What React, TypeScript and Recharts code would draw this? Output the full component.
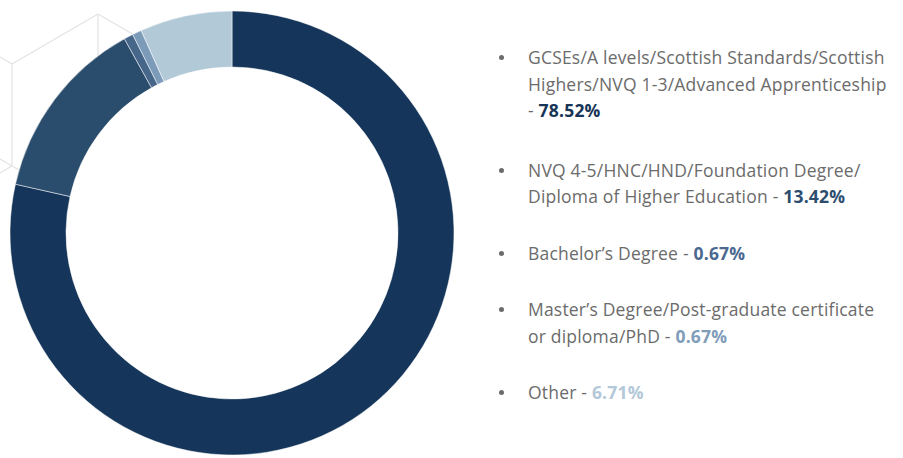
import * as React from "react";
import { PieChart, Pie, Cell } from "recharts";

// Highest qualification held, share of respondents (%).
// Each category label is split into the lines it is shown on.
const categories = [
  ["GCSEs/A levels/Scottish Standards/Scottish", "Highers/NVQ 1-3/Advanced Apprenticeship", ""],
  ["NVQ 4-5/HNC/HND/Foundation Degree/", "Diploma of Higher Education"],
  ["Bachelor\u2019s Degree"],
  ["Master\u2019s Degree/Post-graduate certificate", "or diploma/PhD"],
  ["Other"],
];
const shares = [78.52, 13.42, 0.67, 0.67, 6.71];
const sliceColors = ["#15365a", "#2b4d6d", "#46668a", "#7b9bb8", "#b2c9d8"];
const labelColors = ["#163557", "#2c4d6e", "#4a6890", "#7f9dba", "#b3c8d8"];

const data = categories.map((lines, i) => ({ name: lines.join(" ").trim(), lines, value: shares[i] }));

const W = 903;
const H = 458;

// faint isometric outline sitting behind the ring
function Backdrop() {
  const stroke = "#e3e3e3";
  const segs: [number, number, number, number][] = [
    [98, 14, 12, 64],
    [98, 14, 184, 64],
    [98, 14, 98, 80],
    [0, 57, 12, 64],
    [12, 64, 12, 166],
    [12, 166, 0, 159],
    [12, 166, 0, 173],
    [12, 166, 30, 176],
  ];
  return (
    <svg width={W} height={H} style={{ position: "absolute", left: 0, top: 0 }}>
      {segs.map(([x1, y1, x2, y2], i) => (
        <line key={i} x1={x1} y1={y1} x2={x2} y2={y2} stroke={stroke} strokeWidth={1.2} />
      ))}
    </svg>
  );
}

function LegendList() {
  return (
    <ul
      style={{
        position: "absolute",
        left: 490,
        top: 44,
        width: 413,
        listStyle: "none",
        margin: 0,
        padding: 0,
        fontFamily: "'Open Sans', sans-serif",
        fontSize: 17.5,
        letterSpacing: 0.2,
        lineHeight: "26.5px",
        color: "#6b6b6b",
        whiteSpace: "nowrap",
      }}
    >
      {data.map((d, i) => (
        <li key={d.name} style={{ position: "relative", paddingLeft: 38, marginBottom: i === 0 ? 33 : 30 }}>
          <span
            style={{
              position: "absolute",
              left: 9,
              top: 11,
              width: 5,
              height: 5,
              borderRadius: "50%",
              background: "#6b6b6b",
            }}
          />
          {d.lines.map((ln, j) => (
            <div key={j}>
              {ln}
              {j === d.lines.length - 1 && (
                <>
                  {ln ? " " : ""}-{" "}
                  <b style={{ color: labelColors[i], fontWeight: 700 }}>{d.value.toFixed(2)}%</b>
                </>
              )}
            </div>
          ))}
        </li>
      ))}
    </ul>
  );
}

export default function App() {
  return (
    <div style={{ position: "absolute", left: 0, top: 0, width: W, height: H, background: "#fff" }}>
      <Backdrop />
      <PieChart
        width={W}
        height={H}
        margin={{ top: 0, right: 0, bottom: 0, left: 0 }}
        style={{ position: "absolute", left: 0, top: 0 }}
      >
        <Pie
          data={data}
          dataKey="value"
          nameKey="name"
          cx={232}
          cy={233}
          innerRadius={166}
          outerRadius={222}
          startAngle={90}
          endAngle={-270}
          minAngle={0.7}
          stroke="#ffffff"
          strokeWidth={0.5}
          isAnimationActive={false}
        >
          {data.map((d, i) => (
            <Cell key={d.name} fill={sliceColors[i]} />
          ))}
        </Pie>
      </PieChart>
      <LegendList />
    </div>
  );
}
